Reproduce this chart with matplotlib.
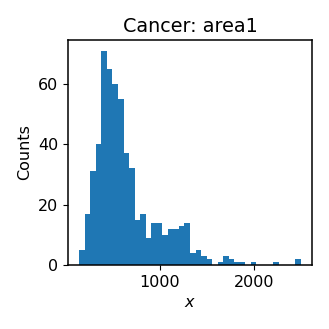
import numpy as np
import matplotlib
matplotlib.use("Agg")
import matplotlib.pyplot as plt

x_min = 143.5
x_max = 2501.0
n_bins = 40
counts = [5, 17, 31, 40, 71, 65, 60, 55, 37, 32,
          15, 17, 9, 14, 14, 10, 12, 12, 13, 14,
          4, 5, 3, 2, 0, 1, 3, 2, 1, 1,
          0, 1, 0, 0, 0, 1, 0, 0, 0, 2]
title = "Cancer: area1"
xlabel = "$x$"
ylabel = "Counts"

plt.rcParams["font.size"] = 11.5
plt.rcParams["axes.linewidth"] = 1.1

edges = np.linspace(x_min, x_max, n_bins + 1)
centers = (edges[:-1] + edges[1:]) / 2

fig = plt.figure(figsize=(3.29, 3.29), dpi=100)
ax = fig.add_axes([0.207, 0.195, 0.741, 0.683])
ax.hist(centers, bins=edges, weights=counts, color="#1f77b4")
ax.set_title(title)
ax.set_xlabel(xlabel)
ax.set_ylabel(ylabel)
fig.savefig("out.png", dpi=100)
